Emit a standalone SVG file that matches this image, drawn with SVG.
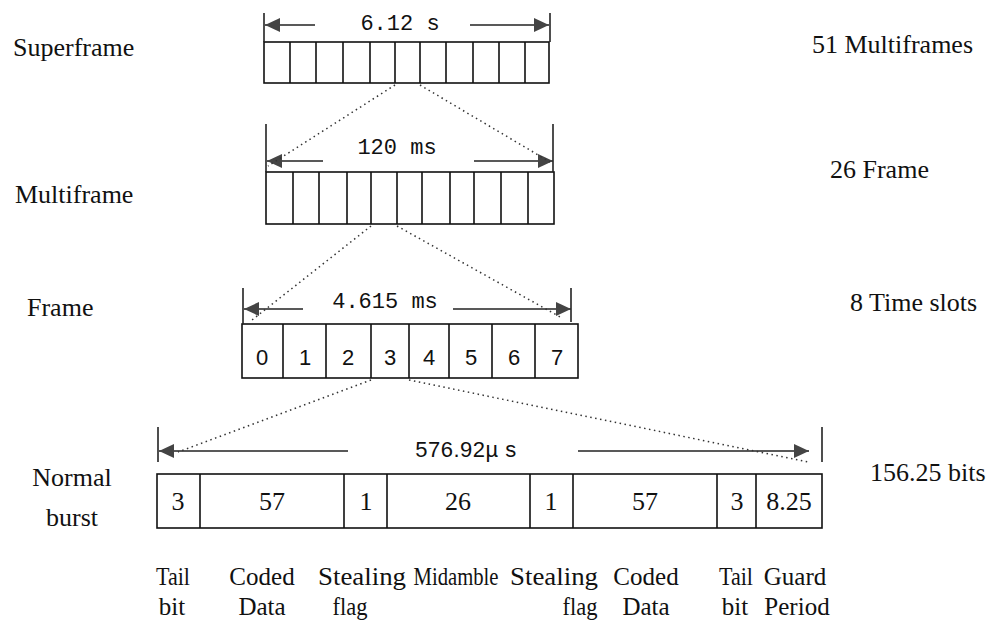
<svg xmlns="http://www.w3.org/2000/svg" width="992" height="629" viewBox="0 0 992 629">
<style>
.box{fill:#fff;stroke:#111;stroke-width:1.6}
.div{stroke:#111;stroke-width:1.6}
.tick{stroke:#222;stroke-width:1.6}
.dim{stroke:#222;stroke-width:1.4;fill:none;marker-end:url(#ah)}
.dot{stroke:#333;stroke-width:1.5;stroke-dasharray:1.5 3.5;fill:none}
.lbl{font-family:"Liberation Serif","Times New Roman",serif;font-size:26px;fill:#111}
.fl{font-family:"Liberation Serif","Times New Roman",serif;font-size:25px;fill:#111;text-anchor:middle}
.mono{font-family:"Liberation Mono","Courier New",monospace;font-size:22px;fill:#111;text-anchor:middle}
.sans{font-family:"Liberation Sans",Arial,sans-serif;font-size:22px;fill:#111;text-anchor:middle}
.mid{text-anchor:middle}
</style>
<defs>
<marker id="ah" markerUnits="userSpaceOnUse" markerWidth="16" markerHeight="14" refX="15" refY="7" orient="auto">
<path d="M0,0 L15,7 L0,14 Z" fill="#444"/>
</marker>
</defs>
<rect width="992" height="629" fill="#fff"/>

<g id="labels-left">
<text class="lbl" x="13" y="56">Superframe</text>
<text class="lbl" x="15" y="203">Multiframe</text>
<text class="lbl" x="27" y="316">Frame</text>
<text class="lbl mid" x="72" y="486">Normal</text>
<text class="lbl mid" x="72" y="526">burst</text>
</g>

<g id="labels-right">
<text class="lbl" x="812" y="53">51 Multiframes</text>
<text class="lbl" x="830" y="178">26 Frame</text>
<text class="lbl" x="850" y="311">8 Time slots</text>
<text class="lbl" x="870" y="481">156.25 bits</text>
</g>

<g id="superframe">
<rect class="box" x="264" y="42" width="285" height="41"/>
<path class="div" d="M290,42V83M316,42V83M343,42V83M370,42V83M395,42V83M420,42V83M446,42V83M473,42V83M499,42V83M525,42V83"/>
<line class="tick" x1="264" y1="13" x2="264" y2="42"/>
<line class="tick" x1="550" y1="13" x2="550" y2="42"/>
<text class="mono" x="400" y="30">6.12 s</text>
</g>

<g id="multiframe">
<rect class="box" x="266" y="172" width="288" height="52"/>
<path class="div" d="M293,172V224M319,172V224M347,172V224M371,172V224M397,172V224M422,172V224M450,172V224M474,172V224M501,172V224M528,172V224"/>
<line class="tick" x1="266" y1="124" x2="266" y2="172"/>
<line class="tick" x1="553" y1="124" x2="553" y2="172"/>
<text class="mono" x="397" y="154">120 ms</text>
</g>

<g id="frame">
<rect class="box" x="242" y="324" width="336" height="54"/>
<path class="div" d="M283,324V378M326,324V378M371,324V378M409,324V378M449,324V378M492,324V378M535,324V378"/>
<line class="tick" x1="243" y1="288" x2="243" y2="324"/>
<line class="tick" x1="571" y1="288" x2="571" y2="322"/>
<text class="mono" x="385" y="308">4.615 ms</text>
<g class="sans">
<text x="262" y="365">0</text>
<text x="305" y="365">1</text>
<text x="348" y="365">2</text>
<text x="390" y="365">3</text>
<text x="429" y="365">4</text>
<text x="471" y="365">5</text>
<text x="514" y="365">6</text>
<text x="557" y="365">7</text>
</g>
</g>

<g id="normal-burst">
<rect class="box" x="157" y="474" width="665" height="54"/>
<path class="div" d="M200,474V528M344,474V528M387,474V528M530,474V528M573,474V528M717,474V528M756,474V528"/>
<line class="tick" x1="158" y1="427" x2="158" y2="462"/>
<line class="tick" x1="822" y1="427" x2="822" y2="462"/>
<text x="466" y="457" font-family="Liberation Sans, Arial, sans-serif" font-size="22" fill="#111" text-anchor="middle" letter-spacing="0.5">576.92µ s</text>
<g class="lbl mid">
<text x="178" y="510">3</text>
<text x="272" y="510">57</text>
<text x="366" y="510">1</text>
<text x="458" y="510">26</text>
<text x="551" y="510">1</text>
<text x="645" y="510">57</text>
<text x="737" y="510">3</text>
<text x="789" y="510">8.25</text>
</g>
</g>

<g id="field-labels">
<text class="fl" x="173" y="585" textLength="34" lengthAdjust="spacingAndGlyphs">Tail</text>
<text class="fl" x="172" y="615">bit</text>
<text class="fl" x="262" y="585">Coded</text>
<text class="fl" x="262" y="615">Data</text>
<text class="fl" x="362" y="585" textLength="88" lengthAdjust="spacingAndGlyphs">Stealing</text>
<text class="fl" x="350" y="615" textLength="35" lengthAdjust="spacingAndGlyphs">flag</text>
<text class="fl" x="456" y="585" textLength="85" lengthAdjust="spacingAndGlyphs">Midamble</text>
<text class="fl" x="554" y="585" textLength="88" lengthAdjust="spacingAndGlyphs">Stealing</text>
<text class="fl" x="580" y="615" textLength="35" lengthAdjust="spacingAndGlyphs">flag</text>
<text class="fl" x="646" y="585">Coded</text>
<text class="fl" x="646" y="615">Data</text>
<text class="fl" x="736" y="585" textLength="34" lengthAdjust="spacingAndGlyphs">Tail</text>
<text class="fl" x="735" y="615">bit</text>
<text class="fl" x="795" y="585">Guard</text>
<text class="fl" x="797" y="615">Period</text>
</g>

<g id="connectors">
<line class="dim" x1="315" y1="25" x2="265" y2="25"/>
<line class="dim" x1="470" y1="25" x2="549" y2="25"/>
<line class="dim" x1="323" y1="161" x2="267" y2="161"/>
<line class="dim" x1="474" y1="161" x2="553" y2="161"/>
<line class="dim" x1="303" y1="309" x2="244" y2="309"/>
<line class="dim" x1="453" y1="309" x2="571" y2="309"/>
<line class="dim" x1="348" y1="451" x2="159" y2="451"/>
<line class="dim" x1="578" y1="451" x2="809" y2="451"/>
<line class="dot" x1="395" y1="85" x2="268" y2="166"/>
<line class="dot" x1="420" y1="85" x2="550" y2="162"/>
<line class="dot" x1="371" y1="226" x2="252" y2="320"/>
<line class="dot" x1="397" y1="226" x2="562" y2="318"/>
<line class="dot" x1="371" y1="380" x2="178" y2="452"/>
<line class="dot" x1="409" y1="380" x2="808" y2="462"/>
</g>
</svg>
